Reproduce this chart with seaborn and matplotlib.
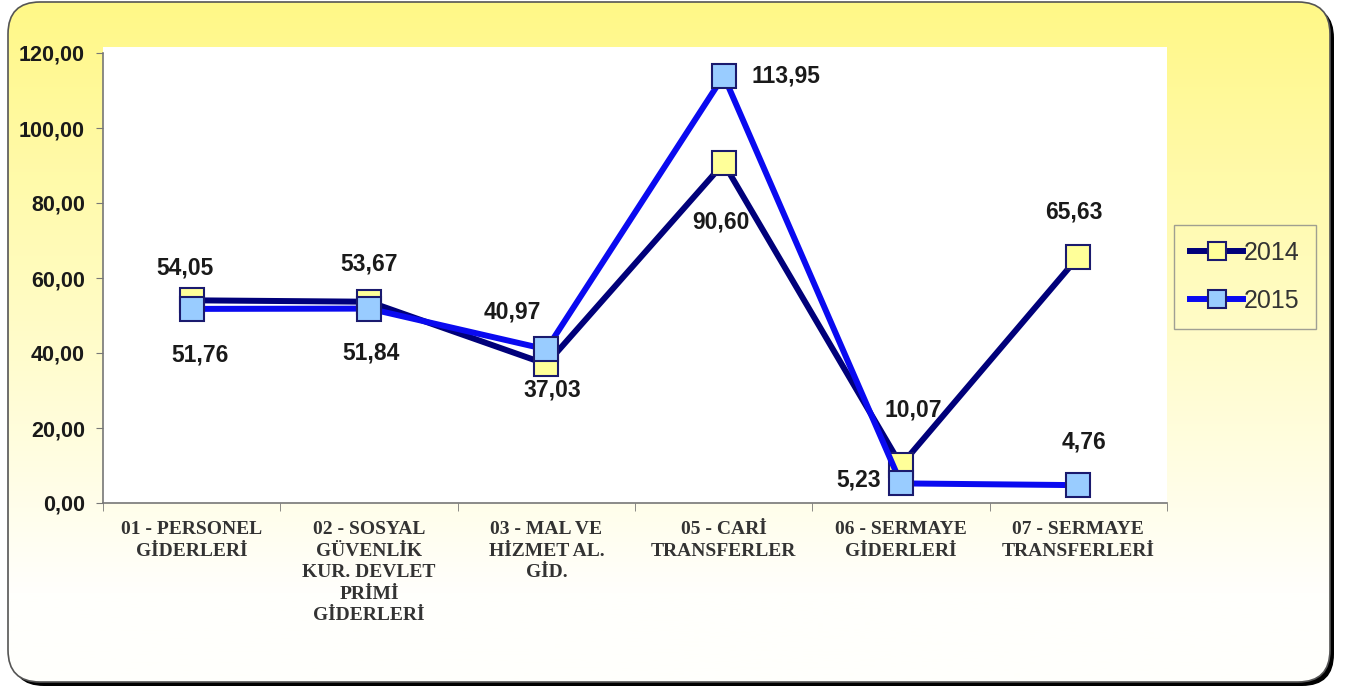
import numpy as np
import pandas as pd
import matplotlib
matplotlib.use("Agg")
import matplotlib.pyplot as plt
import seaborn as sns
from matplotlib.patches import FancyBboxPatch

# data
categories = [
    "01 - PERSONEL\nGİDERLERİ",
    "02 - SOSYAL\nGÜVENLİK\nKUR. DEVLET\nPRİMİ\nGİDERLERİ",
    "03 - MAL VE\nHİZMET AL.\nGİD.",
    "05 - CARİ\nTRANSFERLER",
    "06 - SERMAYE\nGİDERLERİ",
    "07 - SERMAYE\nTRANSFERLERİ",
]
values_2014 = [54.05, 53.67, 37.03, 90.60, 10.07, 65.63]
values_2015 = [51.76, 51.84, 40.97, 113.95, 5.23, 4.76]
years = ["2014", "2015"]

# label offsets in pixels (dx, dy)
offsets_2014 = [(-7, 32), (0, 38), (6, -26), (-3, -59), (12, 55), (-4, 45)]
offsets_2015 = [(8, -46), (2, -44), (-34, 37), (62, 0), (-42, 3), (6, 43)]

df = pd.DataFrame({
    "pos": list(range(len(categories))) * 2,
    "value": values_2014 + values_2015,
    "year": [years[0]] * len(categories) + [years[1]] * len(categories),
})

W, H = 1346, 692
fig = plt.figure(figsize=(W / 100, H / 100), dpi=100)
fig.patch.set_facecolor("white")

# background: rounded frame with yellow gradient and dark shadow
bg = fig.add_axes([0, 0, 1, 1], zorder=-5)
bg.set_xlim(0, W)
bg.set_ylim(H, 0)
bg.axis("off")
shadow = FancyBboxPatch((12, 6), 1322, 680, boxstyle="round,pad=0,rounding_size=32",
                        facecolor="black", edgecolor="none")
bg.add_patch(shadow)
frame = FancyBboxPatch((8, 2), 1322, 680, boxstyle="round,pad=0,rounding_size=32",
                       facecolor="none", edgecolor="#555555", linewidth=1.2, zorder=3)
bg.add_patch(frame)
top = np.array([255, 248, 135]) / 255
bottom = np.array([255, 255, 252]) / 255
t = np.linspace(0, 1, 256)[:, None]
t = np.clip(t * 1.15, 0, 1)
grad = (top[None, :] * (1 - t) + bottom[None, :] * t)[:, None, :]
im = bg.imshow(grad, extent=[8, 1330, 682, 2], aspect="auto", zorder=2)
im.set_clip_path(FancyBboxPatch((8, 2), 1322, 680, boxstyle="round,pad=0,rounding_size=32",
                                transform=bg.transData))

# plot area
left, right, top_px, bot_px = 103, 1167, 47, 503
ax = fig.add_axes([left / W, 1 - bot_px / H, (right - left) / W, (bot_px - top_px) / H])
ax.set_facecolor("white")

styles = {
    "2014": dict(color="#00007A", mfc="#FFFF99"),
    "2015": dict(color="#0A0AF0", mfc="#99CCFF"),
}
for yr in years:
    sub = df[df["year"] == yr]
    sns.lineplot(data=sub, x="pos", y="value", ax=ax, color=styles[yr]["color"],
                 linewidth=4.3, marker="s", markersize=17, markerfacecolor=styles[yr]["mfc"],
                 markeredgecolor="#1A1A6E", markeredgewidth=1.5, label=yr, zorder=3)

lab_kw = dict(textcoords="offset pixels", ha="center", va="center", fontsize=16.5,
              fontweight="bold", family="Liberation Sans", color="#1a1a1a", zorder=5)
for i, v in enumerate(values_2014):
    ax.annotate(f"{v:.2f}".replace(".", ","), (i, v), xytext=offsets_2014[i], **lab_kw)
for i, v in enumerate(values_2015):
    ax.annotate(f"{v:.2f}".replace(".", ","), (i, v), xytext=offsets_2015[i], **lab_kw)

ax.set_xlim(-0.5, len(categories) - 0.5)
ax.set_ylim(0, 121.6)
ax.set_yticks(np.arange(0, 121, 20))
ax.set_yticklabels([f"{v:.2f}".replace(".", ",") for v in np.arange(0, 121, 20)],
                   fontsize=15.5, fontweight="bold", family="Liberation Sans", color="#1a1a1a")
ax.set_xticks(range(len(categories)))
ax.set_xticklabels(categories, fontsize=14, fontweight="bold", family="Liberation Serif",
                   color="#333333", linespacing=1.35)
ax.set_xticks(np.arange(-0.5, len(categories), 1), minor=True)
ax.tick_params(axis="x", which="major", length=0, pad=13)
ax.tick_params(axis="x", which="minor", length=6, color="#777777", direction="out")
ax.tick_params(axis="y", length=5, color="#777777", direction="out", pad=8)
for s in ["top", "right"]:
    ax.spines[s].set_visible(False)
for s in ["left", "bottom"]:
    ax.spines[s].set_color("#777777")
    ax.spines[s].set_linewidth(1.2)
ax.spines["left"].set_bounds(0, 120)
ax.set_xlabel("")
ax.set_ylabel("")
ax.grid(False)

leg = ax.legend(loc="center left", bbox_to_anchor=(1174 / W, 1 - 277 / H),
                bbox_transform=fig.transFigure, frameon=True, fancybox=False,
                prop={"family": "Liberation Sans", "size": 18}, handlelength=2.1,
                handletextpad=0.05, borderpad=0.65, labelspacing=0.95, borderaxespad=0,
                markerscale=0.75)
leg.get_frame().set_edgecolor("#888888")
leg.get_frame().set_facecolor("none")
leg.get_frame().set_linewidth(1.0)
for txt in leg.get_texts():
    txt.set_color("#333333")

fig.savefig("out.png", dpi=100)
